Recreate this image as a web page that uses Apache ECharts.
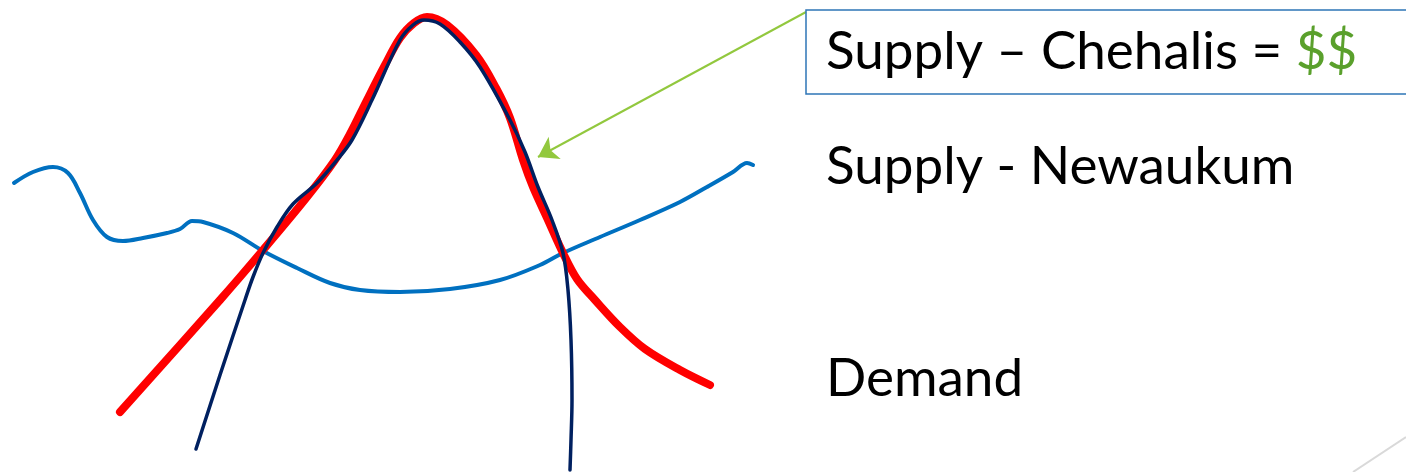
<!DOCTYPE html>
<html>
<head>
<meta charset="utf-8">
<script src="https://cdn.jsdelivr.net/npm/echarts@6/dist/echarts.min.js"></script>
<style>
html,body{margin:0;padding:0;background:#fff;}
#chart{width:1406px;height:472px;}
</style>
</head>
<body>
<div id="chart"></div>
<script>
// Sketch curves (x: horizontal position, y: depth from top)
const redCurve = [
  [120,412],[220,300],[263,250],[307,197],[335,160],[350,134],[367,100],[385,65],
  [400,38],[414,23],[427,17],[447,25],[476,55],[496,88],[510,118],[523,160],
  [533,187],[548,220],[563,253],[577,279],[595,300],[620,327],[645,349],[680,370],[710,385]
];
const navyCurve = [
  [196,449],[220,375],[245,300],[253,277],[263,253],[277,227],[293,204],[317,183],
  [337,160],[352,140],[372,100],[400,40],[413,25],[424,20],[440,24],[460,42],
  [480,67],[510,120],[525,152],[538,187],[552,220],[563,253],[568,290],[571,340],
  [572,400],[571,440],[570,470]
];
const blueCurve = [
  [14,183],[33,172],[53,167],[68,173],[80,193],[93,220],[107,237],[123,241],
  [143,238],[167,233],[180,229],[192,221],[203,222],[233,233],[263,251],[297,268],
  [330,283],[360,290],[400,292],[450,289],[500,280],[540,265],[563,253],[600,237],
  [640,220],[680,202],[707,187],[733,172],[747,163],[753,165]
];
const labels = ['Supply \u2013 Chehalis = ', '$$', 'Supply - Newaukum', 'Demand'];
const arrowFrom = [806, 12];
const arrowTo = [538, 157];

const chart = echarts.init(document.getElementById('chart'), null, {renderer:'canvas'});
const FONT = 'Lato, "Open Sans", sans-serif';
const FS = 53;
chart.setOption({
  animation:false,
  grid:{left:0,right:0,top:0,bottom:0},
  xAxis:{type:'value',min:0,max:1406,show:false},
  yAxis:{type:'value',min:0,max:472,inverse:true,show:false},
  series:[
    {name:'Supply - Newaukum',type:'line',data:blueCurve,smooth:0.35,symbol:'none',
     lineStyle:{color:'#0070C0',width:4,cap:'round',join:'round'},z:2},
    {name:'Supply - Chehalis',type:'line',data:redCurve,smooth:0.35,symbol:'none',
     lineStyle:{color:'#FF0000',width:8,cap:'round',join:'round'},z:3},
    {name:'Demand',type:'line',data:navyCurve,smooth:0.35,symbol:'none',
     lineStyle:{color:'#002060',width:3.5,cap:'round',join:'round'},z:4},
    {name:'arrow',type:'lines',coordinateSystem:'cartesian2d',silent:true,z:6,
     symbol:['none','arrow'],symbolSize:19,
     lineStyle:{color:'#92C83E',width:2,opacity:1},
     data:[{coords:[arrowFrom,arrowTo]}]}
  ],
  graphic:[
    {type:'rect',shape:{x:806,y:10,width:640,height:84},
     style:{fill:'none',stroke:'#2E75B6',lineWidth:1.5},z:10},
    {type:'text',x:826,y:52,style:{text:labels[0]+'{g|'+labels[1]+'}',fill:'#000',
      fontSize:FS,fontFamily:FONT,verticalAlign:'middle',
      rich:{g:{fill:'#5AA02C',fontSize:FS,fontFamily:FONT}}},z:11},
    {type:'text',x:826,y:167,style:{text:labels[2],fill:'#000',fontSize:FS,fontFamily:FONT,verticalAlign:'middle'},z:11},
    {type:'text',x:826,y:379,style:{text:labels[3],fill:'#000',fontSize:FS,fontFamily:FONT,verticalAlign:'middle'},z:11},
    {type:'line',shape:{x1:1353,y1:472,x2:1406,y2:437},style:{stroke:'#D9D9D9',lineWidth:2},z:1}
  ]
});
</script>
</body>
</html>
